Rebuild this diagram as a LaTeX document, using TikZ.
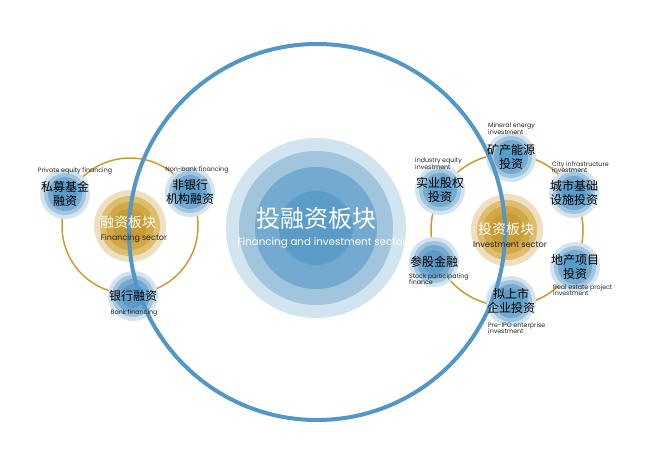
\documentclass[tikz,border=0pt]{standalone}
\usepackage{fontspec}
\setmainfont{Noto Sans CJK SC}
\newfontfamily\enfont{Poppins}
\usetikzlibrary{calc}
\definecolor{bigblue}{HTML}{5297C5}
\definecolor{blueA}{HTML}{D2E4EF}
\definecolor{blueB}{HTML}{A0C5DD}
\definecolor{blueC}{HTML}{74AAD0}
\definecolor{blueD}{HTML}{5B9BC7}
\definecolor{goldline}{HTML}{CB9A33}
\definecolor{goldA}{HTML}{EEDFC0}
\definecolor{goldB}{HTML}{DEBD6C}
\definecolor{goldC}{HTML}{D2A747}
\definecolor{goldD}{HTML}{C99B33}

\begin{document}
\begin{tikzpicture}[x=1pt,y=-1pt,
	cn/.style={font=\fontsize{12}{14}\selectfont, align=center, text=black, inner sep=0pt},
	en/.style={font=\enfont\fontsize{6.3}{6.8}\selectfont, align=left, text=black!85, inner sep=0pt}
]
				\useasboundingbox (0,0) rectangle (650,461);
				
				% Hubs and orbits
				\coordinate (fin) at (130,226);
				\coordinate (inv) at (507,230);
				\draw[goldline, line width=1.5pt] (fin) circle[radius=68pt];
				\draw[goldline, line width=1.5pt] (inv) circle[radius=76pt];
				
				% Satellites
				\coordinate (pe) at (65,194);
				\coordinate (nb) at (190,192);
				\coordinate (bk) at (133,296);
				\coordinate (me) at (511,157);
				\coordinate (ci) at (574,193);
				\coordinate (re) at (575,267);
				\coordinate (ipo) at (511,301);
				\coordinate (sp) at (434,262);
				\coordinate (ie) at (440,190);
				
				% Satellite discs
				\foreach \sat in {pe,nb,bk,me,ci,re,ipo,sp,ie}{
					\fill[blueA] (\sat) circle[radius=25pt];
					\fill[blueB] (\sat) circle[radius=21pt];
					\fill[blueC] (\sat) circle[radius=17pt];
					\fill[blueD] (\sat) circle[radius=12pt];
				}
				
				% Hub discs
				\foreach \hub in {fin,inv}{
					\fill[goldA] (\hub) circle[radius=36pt];
					\fill[goldB] (\hub) circle[radius=30pt];
					\fill[goldC] (\hub) circle[radius=24pt];
					\fill[goldD] (\hub) circle[radius=17pt];
				}
				
				% Big circle
				\coordinate (core) at (316,228);
				\draw[bigblue, line width=4pt] (317,232) circle[radius=188pt];
				\fill[blueA] (core) circle[radius=90pt];
				\fill[blueB] (core) circle[radius=77pt];
				\fill[blueC] (core) circle[radius=61pt];
				\fill[blueD] (core) circle[radius=37pt];
				
				% Core labels
				\node[font=\fontsize{24}{26}\selectfont, text=white, inner sep=0pt] (coreT) at (316,218) {投融资板块};
				\node[font=\enfont\fontsize{10.3}{11}\selectfont, text=white, inner sep=0pt] (coreE) at (322,243) {Financing and investment sector};
				
				% Hub labels
				\node[font=\fontsize{14}{15}\selectfont, text=white, inner sep=0pt] (finT) at (128,222) {融资板块};
				\node[font=\enfont\fontsize{8}{9}\selectfont, text=black!85, inner sep=0pt] (finE) at (134,239) {Financing sector};
				\node[font=\fontsize{14}{15}\selectfont, text=white, inner sep=0pt] (invT) at (506,229) {投资板块};
				\node[font=\enfont\fontsize{8.2}{9}\selectfont, text=black!85, inner sep=0pt] (invE) at (510,245) {Investment sector};
				
				% Satellite labels
				\node[cn] (peT) at (pe) {私募基金\\融资};
				\node[cn] (nbT) at (nb) {非银行\\机构融资};
				\node[cn] (bkT) at (bk) {银行融资};
				\node[cn] (meT) at (me) {矿产能源\\投资};
				\node[cn] (ciT) at (ci) {城市基础\\设施投资};
				\node[cn] (reT) at (re) {地产项目\\投资};
				\node[cn] (ipoT) at (ipo) {拟上市\\企业投资};
				\node[cn] (spT) at (sp) {参股金融};
				\node[cn] (ieT) at (ie) {实业股权\\投资};
				
				% English captions
				\node[en, anchor=south] (peL) at (75,174) {Private equity financing};
				\node[en, anchor=south] (nbL) at (197,173) {Non-bank financing};
				\node[en, anchor=north] (bkL) at (134,309) {Bank financing};
				\node[en, anchor=north west] (meL) at (488,123) {Mineral energy\\investment};
				\node[en, anchor=north west] (ieL) at (415,158) {Industry equity\\investment};
				\node[en, anchor=north west] (ciL) at (552,161) {City infrastructure\\investment};
				\node[en, anchor=north west] (reL) at (553,284) {Real estate project\\investment};
				\node[en, anchor=north west] (ipoL) at (488,322) {Pre-IPO enterprise\\investment};
				\node[en, anchor=north west] (spL) at (409,273) {Stock participating\\finance};
\end{tikzpicture}
\end{document}
